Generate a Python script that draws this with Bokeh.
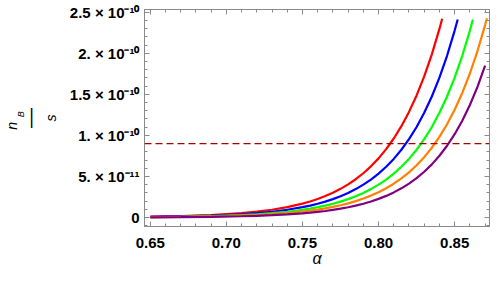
from bokeh.plotting import figure
from bokeh.models import LinearAxis, FixedTicker, Span, Range1d, Title
from bokeh.embed import file_html
from bokeh.resources import INLINE

# ---- data (y values in units of 1e-11) ----
alpha_red = [0.65, 0.67, 0.69, 0.71, 0.72, 0.73, 0.74, 0.75, 0.755, 0.76, 0.765, 0.77, 0.775, 0.78,
             0.785, 0.79, 0.795, 0.80, 0.805, 0.81, 0.815, 0.82, 0.825, 0.83, 0.835, 0.84, 0.8418]
nbs_red = [0.093, 0.166, 0.297, 0.530, 0.708, 0.946, 1.264, 1.689, 1.953, 2.257, 2.609, 3.017, 3.487, 4.031,
           4.660, 5.387, 6.228, 7.199, 8.323, 9.621, 11.122, 12.858, 14.864, 17.183, 19.865, 22.965, 24.196]

alpha_blue = [0.65, 0.67, 0.69, 0.71, 0.72, 0.73, 0.74, 0.75, 0.755, 0.76, 0.765, 0.77, 0.775, 0.78,
              0.785, 0.79, 0.795, 0.80, 0.805, 0.81, 0.815, 0.82, 0.825, 0.83, 0.835, 0.84, 0.845, 0.85, 0.852]
nbs_blue = [0.069, 0.123, 0.220, 0.393, 0.525, 0.701, 0.937, 1.253, 1.448, 1.674, 1.935, 2.237, 2.586, 2.990,
            3.456, 3.996, 4.619, 5.340, 6.173, 7.136, 8.250, 9.537, 11.025, 12.745, 14.734, 17.033, 19.691, 22.763, 24.12]

alpha_green = [0.65, 0.67, 0.69, 0.71, 0.72, 0.73, 0.74, 0.75, 0.755, 0.76, 0.765, 0.77, 0.775, 0.78,
               0.785, 0.79, 0.795, 0.80, 0.805, 0.81, 0.815, 0.82, 0.825, 0.83, 0.835, 0.84, 0.845, 0.85,
               0.855, 0.86, 0.862]
nbs_green = [0.052, 0.092, 0.165, 0.294, 0.393, 0.525, 0.701, 0.937, 1.084, 1.253, 1.448, 1.674, 1.935, 2.237,
             2.586, 2.990, 3.456, 3.996, 4.619, 5.340, 6.173, 7.136, 8.250, 9.537, 11.025, 12.745, 14.734, 17.033,
             19.691, 22.763, 24.12]

alpha_orange = [0.65, 0.67, 0.69, 0.71, 0.72, 0.73, 0.74, 0.75, 0.755, 0.76, 0.765, 0.77, 0.775, 0.78,
                0.785, 0.79, 0.795, 0.80, 0.805, 0.81, 0.815, 0.82, 0.825, 0.83, 0.835, 0.84, 0.845, 0.85,
                0.855, 0.86, 0.865, 0.87, 0.8712]
nbs_orange = [0.040, 0.071, 0.127, 0.226, 0.302, 0.404, 0.540, 0.722, 0.835, 0.965, 1.116, 1.290, 1.491, 1.723,
              1.992, 2.303, 2.663, 3.078, 3.558, 4.113, 4.755, 5.497, 6.355, 7.347, 8.493, 9.818, 11.350, 13.121,
              15.168, 17.535, 20.271, 23.434, 24.26]

alpha_purple = [0.65, 0.67, 0.69, 0.71, 0.72, 0.73, 0.74, 0.75, 0.755, 0.76, 0.765, 0.77, 0.775, 0.78,
                0.785, 0.79, 0.795, 0.80, 0.805, 0.81, 0.815, 0.82, 0.825, 0.83, 0.835, 0.84, 0.845, 0.85,
                0.855, 0.86, 0.865, 0.87]
nbs_purple = [0.025, 0.046, 0.083, 0.152, 0.205, 0.277, 0.374, 0.505, 0.587, 0.682, 0.792, 0.921, 1.070, 1.243,
              1.444, 1.677, 1.949, 2.264, 2.631, 3.056, 3.551, 4.126, 4.793, 5.569, 6.470, 7.517, 8.734, 10.147,
              11.790, 13.697, 15.914, 18.490]

observed_level = 9.0  # 9e-11

x_ticks = [0.65, 0.70, 0.75, 0.80, 0.85]
x_tick_labels = ["0.65", "0.70", "0.75", "0.80", "0.85"]
x_minor = [0.64, 0.65, 0.66, 0.67, 0.68, 0.69, 0.70, 0.71, 0.72, 0.73, 0.74, 0.75, 0.76, 0.77,
           0.78, 0.79, 0.80, 0.81, 0.82, 0.83, 0.84, 0.85, 0.86, 0.87]
y_ticks = [0, 5, 10, 15, 20, 25]
y_tick_labels = ["0", "5. \u00d7 10\u207b\u00b9\u00b9", "1. \u00d7 10\u207b\u00b9\u2070",
                 "1.5 \u00d7 10\u207b\u00b9\u2070", "2. \u00d7 10\u207b\u00b9\u2070", "2.5 \u00d7 10\u207b\u00b9\u2070"]
y_minor = list(range(-1, 26))

series = [
    (alpha_red, nbs_red, "#FF0000"),
    (alpha_blue, nbs_blue, "#0000FF"),
    (alpha_green, nbs_green, "#00FF00"),
    (alpha_orange, nbs_orange, "#FF8000"),
    (alpha_purple, nbs_purple, "#800080"),
]

FRAME = "#8a8a8a"
FONT = "Liberation Sans"
NB = "\u00a0"

p = figure(width=490, height=273, output_backend="svg", toolbar_location=None,
           x_range=Range1d(0.6462, 0.8729), y_range=Range1d(-1.098, 25.33),
           min_border_left=134, min_border_right=1, min_border_top=9, min_border_bottom=47)
p.background_fill_color = "white"
p.border_fill_color = "white"
p.outline_line_color = FRAME
p.xgrid.visible = False
p.ygrid.visible = False

for xs, ys, c in series:
    p.line(xs, ys, line_color=c, line_width=2.2)

p.add_layout(Span(location=observed_level, dimension="width", line_color="#A50000",
                  line_dash="7 4", line_width=1.2))

xt = FixedTicker(ticks=x_ticks, minor_ticks=x_minor)
yt = FixedTicker(ticks=y_ticks, minor_ticks=y_minor)


def style(ax):
    ax.axis_line_color = FRAME
    ax.major_tick_line_color = FRAME
    ax.minor_tick_line_color = FRAME
    ax.major_tick_in = 5
    ax.major_tick_out = 0
    ax.minor_tick_in = 3
    ax.minor_tick_out = 0
    ax.major_label_text_font = FONT
    ax.major_label_text_font_style = "bold"
    ax.major_label_text_font_size = "15px"
    ax.major_label_text_color = "black"


xa = p.xaxis[0]
xa.ticker = xt
style(xa)
xa.major_label_overrides = dict(zip(x_ticks, x_tick_labels))
xa.major_label_standoff = 11

ya = p.yaxis[0]
ya.ticker = yt
style(ya)
ya.major_label_overrides = dict(zip(y_ticks, y_tick_labels))
ya.major_label_standoff = 5

for side in ("above", "right"):
    ax = LinearAxis(ticker=xt if side == "above" else yt)
    style(ax)
    ax.major_label_text_font_size = "0px"
    ax.major_label_text_color = None
    ax.major_label_standoff = 0
    p.add_layout(ax, side)

# x-axis label
p.add_layout(Title(text="\u03b1", align="center", vertical_align="top", standoff=-2,
                   text_font=FONT, text_font_style="italic", text_font_size="16px",
                   text_color="black"), "below")


# y-axis label: fraction n_B / s, built from stacked label-only axes (frame outward)
def label_axis(text, size, font_style, standoff):
    ax = LinearAxis(ticker=FixedTicker(ticks=[]), axis_line_color=None,
                    major_tick_line_color=None, minor_tick_line_color=None,
                    major_tick_in=0, major_tick_out=0, minor_tick_in=0, minor_tick_out=0,
                    major_label_text_font_size="0px", major_label_text_color=None,
                    major_label_standoff=0,
                    axis_label=text, axis_label_standoff=standoff,
                    axis_label_text_font=FONT, axis_label_text_font_size=size,
                    axis_label_text_font_style=font_style, axis_label_text_color="black")
    p.add_layout(ax, "left")


label_axis("s", "14px", "italic", 8)
label_axis("\u2014", "20px", "normal", -1)
label_axis(NB * 3 + "B", "9px", "italic", -10)
label_axis("n" + NB * 4, "14px", "italic", -7)

open("out.html", "w").write(file_html(p, INLINE))
